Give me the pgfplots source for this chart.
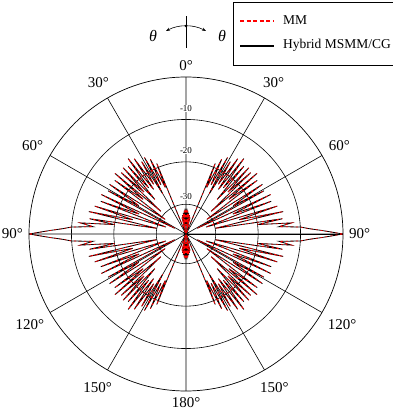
\documentclass[border=0pt]{standalone}
\usepackage{fontspec}
\setmainfont{Liberation Serif}
\usepackage{pgfplots}
\pgfplotsset{compat=1.18}
\usepgfplotslibrary{polar}
\usepackage{pgfplotstable}
\usetikzlibrary{arrows.meta}

% one quadrant of the pattern: theta measured from the top (0 deg), dB
\pgfplotstableread{
theta db
0 -31.5
1 -34
2 -31
3 -35
4.5 -31.5
6 -35
7.5 -32
9 -36
10.5 -32.5
12 -36
13.5 -33
15 -37
17 -36
19 -37
21 -37
22.5 -19
24 -25
25.5 -17.5
27 -24
28.5 -16.5
30 -26
31.5 -17
33 -23
34.5 -15.5
36 -24
37.5 -14.6
39 -23
40.5 -16
42 -26
43.5 -15.5
45 -23
46.5 -16
48 -29
49.5 -15
51 -24
53 -16
55 -31
57 -15.5
59 -24
61 -16
63 -34
65 -15
67 -25
69 -15.5
71 -32
73 -14.5
75 -24
77 -13.5
79 -30
81 -14
82.5 -20
84 -12
85.5 -15
86.5 -10
87.5 -8
88.5 -5
89.3 -2.5
90 0
}\quadrant

\begin{document}
\begin{tikzpicture}
\useasboundingbox (0pt,0pt) rectangle (392pt,420pt);
\begin{polaraxis}[
  at={(186pt,186pt)}, anchor=center,
  scale only axis, width=314pt, height=314pt,
  xmin=0, xmax=360, ymin=0, ymax=37,
  xtick={0,30,...,330},
  xticklabels={90°,60°,30°,0°,30°,60°,90°,120°,150°,180°,150°,120°},
  ytick={7,17,27}, yticklabels={},
  grid=major,
  major grid style={black, line width=0.6pt},
  axis line style={black, line width=0.7pt},
  major tick length=0pt,
  xticklabel style={font=\fontsize{15}{18}\selectfont, inner sep=6pt},
  clip=false,
]
% Hybrid MSMM/CG (black)
\addplot[black, line width=0.8pt, forget plot] table[x expr=90-\thisrow{theta}, y expr=\thisrow{db}+37] {\quadrant};
\addplot[black, line width=0.8pt, forget plot] table[x expr=90+\thisrow{theta}, y expr=\thisrow{db}+37] {\quadrant};
\addplot[black, line width=0.8pt, forget plot] table[x expr=\thisrow{theta}-90, y expr=\thisrow{db}+37] {\quadrant};
\addplot[black, line width=0.8pt, forget plot] table[x expr=270-\thisrow{theta}, y expr=\thisrow{db}+37] {\quadrant};
% MM (red dashed)
\addplot[red, line width=0.7pt, dash pattern=on 2pt off 3pt, forget plot] table[x expr=90-\thisrow{theta}, y expr=\thisrow{db}+37] {\quadrant};
\addplot[red, line width=0.7pt, dash pattern=on 2pt off 3pt, forget plot] table[x expr=90+\thisrow{theta}, y expr=\thisrow{db}+37] {\quadrant};
\addplot[red, line width=0.7pt, dash pattern=on 2pt off 3pt, forget plot] table[x expr=\thisrow{theta}-90, y expr=\thisrow{db}+37] {\quadrant};
\addplot[red, line width=0.7pt, dash pattern=on 2pt off 3pt, forget plot] table[x expr=270-\thisrow{theta}, y expr=\thisrow{db}+37] {\quadrant};

\node[fill=white, inner sep=0.6pt, font=\fontsize{9}{10}\selectfont] at (axis cs:90,29.5) {-10};
\node[fill=white, inner sep=0.6pt, font=\fontsize{9}{10}\selectfont] at (axis cs:90,19.6) {-20};
\node[fill=white, inner sep=0.6pt, font=\fontsize{9}{10}\selectfont] at (axis cs:90,8.8) {-30};
\end{polaraxis}
% legend
\draw[fill=white, line width=0.7pt] (233pt,418pt) rectangle (400pt,355pt);
\draw[red, line width=1.2pt, dash pattern=on 4pt off 2.6pt] (240pt,399pt) -- (274pt,399pt);
\node[anchor=west, inner sep=0pt, font=\fontsize{13.5}{15}\selectfont] at (283pt,399.5pt) {MM};
\draw[black, line width=1.2pt] (240pt,374pt) -- (274pt,374pt);
\node[anchor=west, inner sep=0pt, font=\fontsize{13.5}{15}\selectfont] at (283pt,374.5pt) {Hybrid MSMM/CG};
% theta direction indicator
\draw[line width=0.6pt] (186pt,372pt) -- (186pt,404pt);
\draw[line width=0.6pt, {Stealth[length=4pt,width=3pt]}-{Stealth[length=4pt,width=3pt]}]
  ([shift={(118:42.5pt)}]186pt,351.5pt) arc[start angle=118, end angle=62, radius=42.5pt];
\fill (186pt,394pt) circle (1.3pt);
\node[font=\fontsize{16}{18}\selectfont\itshape] at (153pt,384pt) {θ};
\node[font=\fontsize{16}{18}\selectfont\itshape] at (222pt,384pt) {θ};
\end{tikzpicture}
\end{document}
